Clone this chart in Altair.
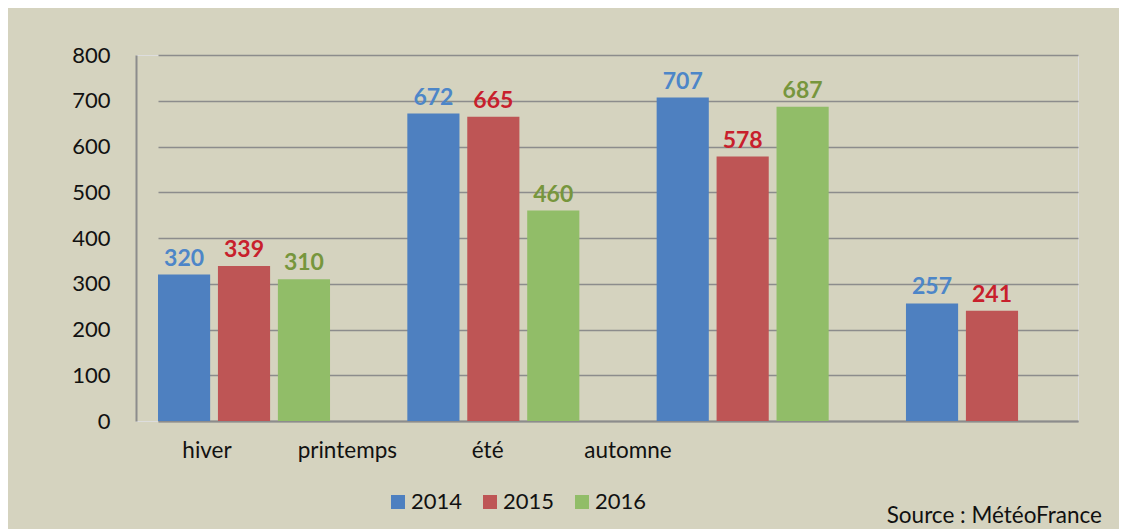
import altair as alt
import pandas as pd

seasons = ["hiver", "printemps", "été", "automne"]
years = ["2014", "2015", "2016"]
v2014 = [320, 672, 707, 257]
v2015 = [339, 665, 578, 241]
v2016 = [310, 460, 687, None]
bar_colors = ["#4E80C0", "#BE5555", "#91BD68"]
label_colors = ["#4D86C8", "#C8202C", "#77963D"]
source_text = "Source : MétéoFrance"

rows = []
for yr, vals in zip(years, [v2014, v2015, v2016]):
    for s, v in zip(seasons, vals):
        if v is not None:
            rows.append({"saison": s, "annee": yr, "valeur": v})
df = pd.DataFrame(rows)
lab_df = pd.DataFrame({"label": seasons})

W, H = 942, 366
FONT = "Lato"
GRID = "#8C8C8C"

x_enc = alt.X("saison:N", sort=seasons,
              scale=alt.Scale(domain=seasons, range=[22, 942], paddingInner=0.31, paddingOuter=0),
              axis=alt.Axis(labels=False, ticks=False, title=None, grid=False,
                            domainColor=GRID, domainWidth=2))
xo_enc = alt.XOffset("annee:N", scale=alt.Scale(domain=years, paddingInner=0.13, paddingOuter=0))
y_enc = alt.Y("valeur:Q", scale=alt.Scale(domain=[0, 800], nice=False),
              axis=alt.Axis(values=list(range(0, 801, 100)), title=None, ticks=False,
                            labelPadding=26, labelFontSize=22, labelColor="#111111",
                            labelFont=FONT, grid=True, gridColor=GRID, gridWidth=1.5,
                            domainColor=GRID, domainWidth=2))

bars = alt.Chart(df).mark_bar().encode(
    x=x_enc, xOffset=xo_enc, y=y_enc,
    color=alt.Color("annee:N", scale=alt.Scale(domain=years, range=bar_colors),
                    legend=alt.Legend(orient="none", legendX=251, legendY=436,
                                      direction="horizontal", title=None,
                                      symbolType="square", symbolSize=196,
                                      symbolStrokeWidth=0, labelFontSize=22,
                                      labelFont=FONT, labelColor="#111111",
                                      labelOffset=2, columnPadding=16)),
)

values = alt.Chart(df).mark_text(baseline="alphabetic", dy=-9, fontSize=23,
                                 fontWeight="bold", font=FONT).encode(
    x=alt.X("saison:N", sort=seasons), xOffset=xo_enc, y="valeur:Q",
    text="valeur:Q",
    color=alt.Color("annee:N", scale=alt.Scale(domain=years, range=label_colors), legend=None),
)

inner = alt.layer(bars, values).resolve_scale(color="independent")

labels = alt.Chart(lab_df).mark_text(fontSize=22.5, font=FONT, color="#111111",
                                     baseline="middle").encode(
    x=alt.X("label:N", sort=seasons,
            scale=alt.Scale(type="point", domain=seasons, range=[71, 492], padding=0),
            axis=None),
    y=alt.value(396),
    text="label:N",
)

source = alt.Chart(lab_df.head(1)).mark_text(fontSize=22.5, font=FONT, color="#111111",
                                             align="right", baseline="middle").encode(
    x=alt.value(966), y=alt.value(461), text=alt.value(source_text))

chart = alt.layer(inner, labels, source).resolve_scale(x="independent").properties(
    width=W, height=H,
    autosize=alt.AutoSizeParams(type="none"),
    padding={"left": 128, "top": 47, "right": 41, "bottom": 108},
    background="#D5D3BF",
).configure_view(fill="white", stroke=None).configure(font=FONT)

chart.save("out.html", embed_options={"renderer": "svg", "actions": False})
